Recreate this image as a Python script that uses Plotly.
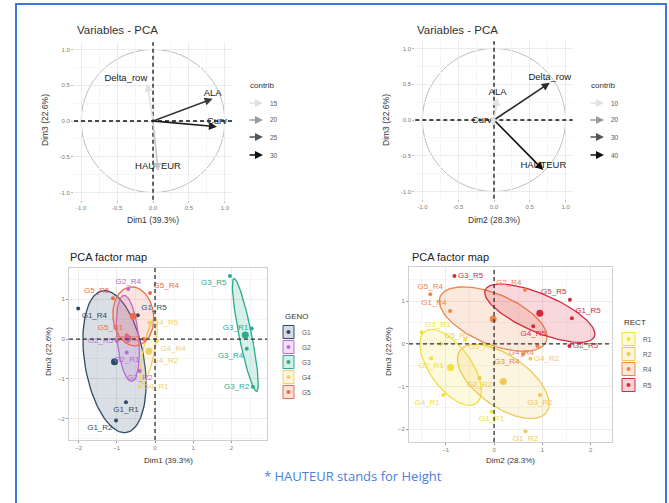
import numpy as np
import plotly.graph_objects as go

W, H = 669, 503

# ---------------- data ----------------
var_names = ["ALA", "Curv", "Delta_row", "HAUTEUR"]
var_dim1 = [0.83, 0.89, -0.08, 0.07]
var_dim2 = [0.05, -0.03, 0.78, 0.69]
var_dim3 = [0.31, -0.08, 0.52, -0.70]
contrib_13 = [27, 29, 14, 17]
contrib_23 = [9, 4, 36, 41]
contrib_levels_13 = [15, 20, 25, 30]
contrib_levels_23 = [10, 20, 30, 40]

ind_names = ["G1_R1", "G1_R2", "G1_R4", "G1_R5",
             "G2_R1", "G2_R2", "G2_R4", "G2_R5",
             "G3_R1", "G3_R2", "G3_R4", "G3_R5",
             "G4_R1", "G4_R2", "G4_R4", "G4_R5",
             "G5_R1", "G5_R2", "G5_R4", "G5_R5"]
ind_geno = [n.split("_")[0] for n in ind_names]
ind_rect = [n.split("_")[1] for n in ind_names]
ind_dim1 = [-0.76, -1.02, -2.01, -0.45,
            -0.74, -0.40, -0.70, -1.00,
            2.53, 2.56, 2.40, 1.96,
            -0.40, -0.15, 0.05, -0.15,
            -0.74, -0.30, -0.13, -1.10]
ind_dim2 = [-0.05, 0.65, -0.91, 1.61,
            -1.30, -0.30, 0.64, 1.56,
            -1.50, 0.95, 0.60, -0.82,
            -1.05, 0.75, 0.90, 0.81,
            -0.60, -1.10, -1.32, 1.57]
ind_dim3 = [-1.59, -2.05, 0.77, 0.60,
            -0.34, -0.80, 1.26, -0.05,
            0.27, -1.20, -0.24, 1.59,
            -1.20, -0.35, -0.05, 0.41,
            0.10, 0.00, 1.16, 1.03]

geno_levels = ["G1", "G2", "G3", "G4", "G5"]
rect_levels = ["R1", "R2", "R4", "R5"]

# ---------------- styles ----------------
geno_colors = {"G1": "#2F4B68", "G2": "#B96BD4", "G3": "#2BAA8C", "G4": "#F1D06A", "G5": "#EC6A4C"}
rect_colors = {"R1": "#F2E03C", "R2": "#EFC955", "R4": "#EE8548", "R5": "#D8283E"}

pos_p3 = ["bottom center", "bottom left", "bottom right", "top right",
          "bottom center", "bottom center", "top center", "middle left",
          "middle left", "middle left", "bottom left", "bottom left",
          "middle right", "bottom right", "bottom right", "middle right",
          "top left", "middle left", "top right", "top left"]
pos_p4 = ["bottom center", "bottom center", "top left", "top right",
          "bottom center", "bottom center", "top left", "middle right",
          "top right", "bottom center", "bottom left", "middle right",
          "bottom left", "middle right", "bottom left", "bottom center",
          "bottom right", "top right", "top center", "top left"]
var_pos_13 = ["top center", "top center", "top left", "top center"]
var_pos_23 = ["top center", "top left", "top center", "top center"]

FONT = "Liberation Sans, Arial, sans-serif"


def rgba(hexc, a):
    hexc = hexc.lstrip("#")
    r, g, b = int(hexc[0:2], 16), int(hexc[2:4], 16), int(hexc[4:6], 16)
    return f"rgba({r},{g},{b},{a})"


def gray_for(c, lo, hi):
    f = min(max((c - lo) / (hi - lo), 0), 1)
    v = int(225 - 210 * f)
    return f"rgb({v},{v},{v})"


def conf_ellipse(x, y, npts=120):
    x = np.asarray(x, float)
    y = np.asarray(y, float)
    c = np.array([x.mean(), y.mean()])
    cov = np.cov(x, y) / len(x)
    vals, vecs = np.linalg.eigh(cov)
    r = np.sqrt(5.991)
    t = np.linspace(0, 2 * np.pi, npts)
    circ = np.vstack([np.cos(t), np.sin(t)])
    pts = vecs @ (np.diag(np.sqrt(np.maximum(vals, 0)) * r) @ circ)
    return c[0] + pts[0], c[1] + pts[1]


def px2x(px):
    return px / W


def py2y(py):
    return 1 - py / H


fig = go.Figure()
annotations = []
shapes = []

# ---------------- panels 1 & 2 : variables ----------------
for k, (xa, ya, xs, ys, contrib, lo, hi, vpos) in enumerate([
        ("x", "y", var_dim1, var_dim3, contrib_13, contrib_levels_13[0], contrib_levels_13[-1], var_pos_13),
        ("x2", "y2", var_dim2, var_dim3, contrib_23, contrib_levels_23[0], contrib_levels_23[-1], var_pos_23)]):
    shapes.append(dict(type="circle", xref=xa, yref=ya, x0=-1, y0=-1, x1=1, y1=1,
                       line=dict(color="#BDBDBD", width=1), layer="below"))
    shapes.append(dict(type="line", xref=xa, yref=ya + " domain", x0=0, x1=0, y0=0, y1=1,
                       line=dict(color="#111", width=1.3, dash="4px,3px")))
    shapes.append(dict(type="line", xref=xa + " domain", yref=ya, x0=0, x1=1, y0=0, y1=0,
                       line=dict(color="#111", width=1.3, dash="4px,3px")))
    for i in range(len(var_names)):
        annotations.append(dict(x=xs[i], y=ys[i], ax=0, ay=0, xref=xa, yref=ya, axref=xa, ayref=ya,
                                showarrow=True, arrowhead=2, arrowsize=1, arrowwidth=1.6,
                                arrowcolor=gray_for(contrib[i], lo, hi), text=""))
    fig.add_trace(go.Scatter(x=xs, y=ys, xaxis=xa, yaxis=ya, mode="text", text=var_names,
                             textposition=vpos, textfont=dict(size=9.5, color="#222", family=FONT),
                             showlegend=False, hoverinfo="skip"))

# ---------------- panels 3 & 4 : individuals ----------------
for xa, ya in [("x3", "y3"), ("x4", "y4")]:
    shapes.append(dict(type="line", xref=xa, yref=ya + " domain", x0=0, x1=0, y0=0, y1=1,
                       line=dict(color="#333", width=1.3, dash="4px,3px")))
    shapes.append(dict(type="line", xref=xa + " domain", yref=ya, x0=0, x1=1, y0=0, y1=0,
                       line=dict(color="#333", width=1.3, dash="4px,3px")))


def group_panel(xa, ya, xs, groups, levels, colors, positions):
    for g in levels:
        idx = [i for i, v in enumerate(groups) if v == g]
        gx = [xs[i] for i in idx]
        gy = [ind_dim3[i] for i in idx]
        ex, ey = conf_ellipse(gx, gy)
        fig.add_trace(go.Scatter(x=ex, y=ey, xaxis=xa, yaxis=ya, mode="lines", fill="toself",
                                 fillcolor=rgba(colors[g], 0.18), line=dict(color=colors[g], width=1.3),
                                 showlegend=False, hoverinfo="skip"))
    for g in levels:
        idx = [i for i, v in enumerate(groups) if v == g]
        gx = [xs[i] for i in idx]
        gy = [ind_dim3[i] for i in idx]
        fig.add_trace(go.Scatter(x=gx, y=gy, xaxis=xa, yaxis=ya, mode="markers+text",
                                 text=[ind_names[i] for i in idx],
                                 textposition=[positions[i] for i in idx],
                                 textfont=dict(size=8, color=colors[g], family=FONT),
                                 marker=dict(size=4, color=colors[g]),
                                 showlegend=False, hoverinfo="skip"))
        fig.add_trace(go.Scatter(x=[np.mean(gx)], y=[np.mean(gy)], xaxis=xa, yaxis=ya, mode="markers",
                                 marker=dict(size=7, color=colors[g]),
                                 showlegend=False, hoverinfo="skip"))


group_panel("x3", "y3", ind_dim1, ind_geno, geno_levels, geno_colors, pos_p3)
group_panel("x4", "y4", ind_dim2, ind_rect, rect_levels, rect_colors, pos_p4)

# ---------------- axes ----------------
tickfont = dict(size=6, color="#7A7A7A", family=FONT)


def var_axes(dom_x, dom_y, anchor_x, anchor_y):
    ax = dict(domain=dom_x, anchor=anchor_y, range=[-1.1, 1.1], tickvals=[-1, -0.5, 0, 0.5, 1],
              ticktext=["-1.0", "-0.5", "0.0", "0.5", "1.0"], showgrid=True, gridcolor="#EBEBEB",
              gridwidth=0.8, minor=dict(tickvals=[-0.75, -0.25, 0.25, 0.75], showgrid=True, gridcolor="#F5F5F5"),
              zeroline=False, showline=False, ticks="outside", ticklen=2, tickcolor="#BBB",
              tickfont=tickfont)
    ay = dict(ax)
    ay.update(domain=dom_y, anchor=anchor_x)
    return ax, ay


def ind_axes(dom_x, dom_y, rx, ry, anchor_x, anchor_y):
    base = dict(showgrid=True, gridcolor="#EBEBEB", gridwidth=0.8, zeroline=False,
                showline=True, mirror=True, linecolor="#CFCFCF", linewidth=1,
                ticks="outside", ticklen=2, tickcolor="#999", tickfont=tickfont, dtick=1,
                minor=dict(dtick=0.5, showgrid=True, gridcolor="#F5F5F5"))
    ax = dict(base, domain=dom_x, anchor=anchor_y, range=rx)
    ay = dict(base, domain=dom_y, anchor=anchor_x, range=ry)
    return ax, ay


x1, y1 = var_axes([px2x(74), px2x(232)], [py2y(199.7), py2y(42.3)], "x", "y")
x2, y2 = var_axes([px2x(415.3), px2x(572.7)], [py2y(198.7), py2y(41.3)], "x2", "y2")
x3, y3 = ind_axes([px2x(69), px2x(267)], [py2y(440), py2y(268)], [-2.25, 2.93], [-2.54, 1.79], "x3", "y3")
x4, y4 = ind_axes([px2x(409), px2x(612)], [py2y(442), py2y(267)], [-1.76, 2.44], [-2.30, 1.80], "x4", "y4")


# ---------------- titles / axis titles ----------------
def txt(px, py, s, size, color="#333", xanchor="center", yanchor="middle", angle=0, family=FONT):
    annotations.append(dict(x=px2x(px), y=py2y(py), xref="paper", yref="paper", text=s, showarrow=False,
                            xanchor=xanchor, yanchor=yanchor, textangle=angle,
                            font=dict(size=size, color=color, family=family)))


txt(75, 30, "Variables - PCA", 11.5, "#333", xanchor="left")
txt(415, 30, "Variables - PCA", 11.5, "#333", xanchor="left")
txt(68, 257, "PCA factor map", 11, "#222", xanchor="left")
txt(410, 257, "PCA factor map", 11, "#222", xanchor="left")

txt(153, 220, "Dim1 (39.3%)", 8.5)
txt(494, 220, "Dim2 (28.3%)", 8.5)
txt(45, 120, "Dim3 (22.6%)", 8.5, angle=-90)
txt(386, 120, "Dim3 (22.6%)", 8.5, angle=-90)
txt(168, 460, "Dim1 (39.3%)", 8)
txt(510, 460, "Dim2 (28.3%)", 8)
txt(48, 352, "Dim3 (22.6%)", 8, angle=-90)
txt(388, 352, "Dim3 (22.6%)", 8, angle=-90)

# ---------------- contrib legends ----------------
leg_y = [103, 120, 137, 155]
for (lx, levels) in [(248, contrib_levels_13), (589, contrib_levels_23)]:
    txt(lx, 85, "contrib", 8, "#333", xanchor="left")
    lo, hi = levels[0], levels[-1]
    for j, lv in enumerate(levels):
        annotations.append(dict(x=px2x(lx + 15), y=py2y(leg_y[j]), xref="paper", yref="paper",
                                ax=-15, ay=0, showarrow=True, arrowhead=2, arrowsize=1, arrowwidth=1.6,
                                arrowcolor=gray_for(lv, lo, hi), text=""))
        txt(lx + 20, leg_y[j], str(lv), 6.5, "#555", xanchor="left")


# ---------------- group legends ----------------
def group_legend(lx, ty, title, levels, colors, ys, bw, bh):
    txt(lx, ty, title, 8, "#333", xanchor="left")
    for j, g in enumerate(levels):
        yc = ys[j]
        shapes.append(dict(type="rect", xref="paper", yref="paper",
                           x0=px2x(lx), x1=px2x(lx + bw), y0=py2y(yc + bh / 2), y1=py2y(yc - bh / 2),
                           line=dict(color=colors[g], width=1), fillcolor=rgba(colors[g], 0.2)))
        cx = lx + bw / 2
        shapes.append(dict(type="circle", xref="paper", yref="paper",
                           x0=px2x(cx - 2), x1=px2x(cx + 2), y0=py2y(yc + 2), y1=py2y(yc - 2),
                           line=dict(width=0), fillcolor=colors[g]))
        txt(lx + bw + 6, yc, g, 6.5, "#555", xanchor="left")


group_legend(283, 316, "GENO", geno_levels, geno_colors, [332, 347, 362, 377, 392], 11, 13)
group_legend(622, 322, "RECT", rect_levels, rect_colors, [339, 354, 369, 385], 13, 13)

# ---------------- caption & frame ----------------
txt(353, 476, "* HAUTEUR stands for Height", 13, "#4A7FD8", family="Open Sans, sans-serif")
shapes.append(dict(type="rect", xref="paper", yref="paper", x0=px2x(16), x1=px2x(666),
                   y0=-0.05, y1=py2y(4), line=dict(color="#3C78D8", width=2), fillcolor="rgba(0,0,0,0)"))

fig.update_layout(
    width=W, height=H, margin=dict(l=0, r=0, t=0, b=0),
    paper_bgcolor="white", plot_bgcolor="white",
    xaxis=x1, yaxis=y1, xaxis2=x2, yaxis2=y2, xaxis3=x3, yaxis3=y3, xaxis4=x4, yaxis4=y4,
    annotations=annotations, shapes=shapes, showlegend=False,
    font=dict(family=FONT),
)

fig.write_html("out.html")
